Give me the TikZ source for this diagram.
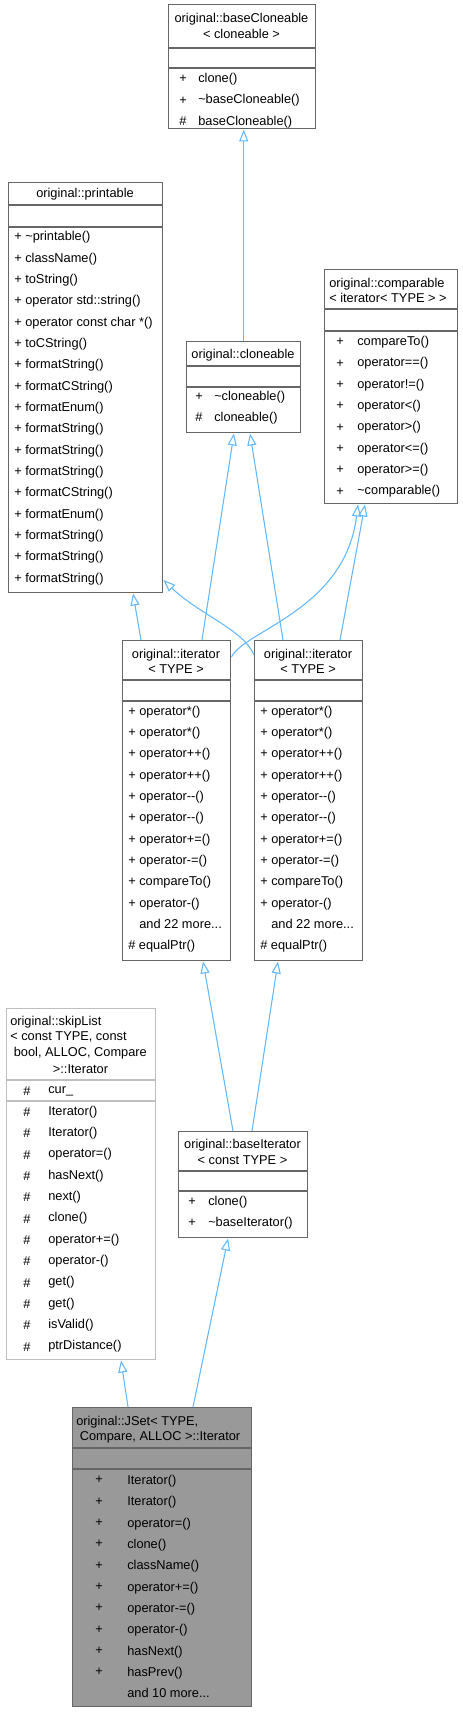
\documentclass[tikz,border=0pt]{standalone}
\usepackage{fontspec}
\setmainfont{Liberation Sans}
\usepackage{tikz}
\usetikzlibrary{calc,arrows.meta}

\begin{document}
\begin{tikzpicture}[x=0.75pt,y=0.75pt,yscale=-1,xscale=1,
  classbox/.style={draw={rgb, 255:red, 102; green, 102; blue, 102 }, fill=white, line width=1.1pt, inner sep=0pt, anchor=north west},
  divider/.style={draw={rgb, 255:red, 102; green, 102; blue, 102 }, line width=1.1pt},
  titletext/.style={font=\fontsize{9.6}{11.7}\selectfont, inner sep=0pt},
  rowtext/.style={font=\fontsize{9.6}{16}\selectfont, inner sep=0pt, align=left, anchor=west},
  symtext/.style={font=\fontsize{9.6}{16}\selectfont, inner sep=0pt, align=center},
  inherit/.style={draw={rgb, 255:red, 99; green, 184; blue, 255 }, line width=0.8pt, -{Triangle[open, length=9pt, width=6.8pt]}}
  ]
\useasboundingbox (0,0) rectangle (463,1712);

%Class: baseCloneable
\node[classbox, minimum width=147*0.75pt, minimum height=124*0.75pt] (bc) at (168,4) {};
\draw[divider] (bc.west |- 0,48) -- (bc.east |- 0,48);
\draw[divider] (bc.west |- 0,68) -- (bc.east |- 0,68);
\node[titletext, align=center] (bcTitle) at (241.5,26) {original::baseCloneable\\< cloneable >};
\node[symtext] (bcSym) at (183,100.5) {+\\+\\\#};
\node[rowtext] (bcRows) at (198,100.5) {clone()\\\textasciitilde baseCloneable()\\baseCloneable()};

%Class: printable
\node[classbox, minimum width=154*0.75pt, minimum height=410*0.75pt] (pr) at (8,182) {};
\draw[divider] (pr.west |- 0,205) -- (pr.east |- 0,205);
\draw[divider] (pr.west |- 0,227) -- (pr.east |- 0,227);
\node[titletext] (prTitle) at (85,194) {original::printable};
\node[rowtext] (prRows) at (14,408.2) {+ \textasciitilde printable()\\+ className()\\+ toString()\\+ operator std::string()\\+ operator const char *()\\+ toCString()\\+ formatString()\\+ formatCString()\\+ formatEnum()\\+ formatString()\\+ formatString()\\+ formatString()\\+ formatCString()\\+ formatEnum()\\+ formatString()\\+ formatString()\\+ formatString()};

%Class: cloneable
\node[classbox, minimum width=114*0.75pt, minimum height=91*0.75pt] (cl) at (186,341) {};
\draw[divider] (cl.west |- 0,366) -- (cl.east |- 0,366);
\draw[divider] (cl.west |- 0,387) -- (cl.east |- 0,387);
\node[titletext] (clTitle) at (243,355) {original::cloneable};
\node[symtext] (clSym) at (199,407.5) {+\\\#};
\node[rowtext] (clRows) at (214,407.5) {\textasciitilde cloneable()\\cloneable()};

%Class: comparable
\node[classbox, minimum width=133*0.75pt, minimum height=234*0.75pt] (cp) at (324,269) {};
\draw[divider] (cp.west |- 0,309) -- (cp.east |- 0,309);
\draw[divider] (cp.west |- 0,331) -- (cp.east |- 0,331);
\node[titletext, align=left, anchor=west] (cpTitle) at (329,290.5) {original::comparable\\< iterator< TYPE > >};
\node[symtext] (cpSym) at (340,416.7) {+\\+\\+\\+\\+\\+\\+\\+};
\node[rowtext] (cpRows) at (357,416.7) {compareTo()\\operator==()\\operator!=()\\operator<()\\operator>()\\operator<=()\\operator>=()\\\textasciitilde comparable()};

%Class: iterator (left)
\node[classbox, minimum width=108*0.75pt, minimum height=320*0.75pt] (iterA) at (122,640) {};
\draw[divider] (iterA.west |- 0,680) -- (iterA.east |- 0,680);
\draw[divider] (iterA.west |- 0,701) -- (iterA.east |- 0,701);
\node[titletext, align=center] (iterATitle) at (176,661.5) {original::iterator\\< TYPE >};
\node[rowtext] (iterARows) at (128,829.3) {+ operator*()\\+ operator*()\\+ operator++()\\+ operator++()\\+ operator-{}-()\\+ operator-{}-()\\+ operator+=()\\+ operator-=()\\+ compareTo()\\+ operator-()\\\phantom{+ }and 22 more...\\\# equalPtr()};

%Class: iterator (right)
\node[classbox, minimum width=108*0.75pt, minimum height=320*0.75pt] (iterB) at (254,640) {};
\draw[divider] (iterB.west |- 0,680) -- (iterB.east |- 0,680);
\draw[divider] (iterB.west |- 0,701) -- (iterB.east |- 0,701);
\node[titletext, align=center] (iterBTitle) at (308,661.5) {original::iterator\\< TYPE >};
\node[rowtext] (iterBRows) at (260,829.3) {+ operator*()\\+ operator*()\\+ operator++()\\+ operator++()\\+ operator-{}-()\\+ operator-{}-()\\+ operator+=()\\+ operator-=()\\+ compareTo()\\+ operator-()\\\phantom{+ }and 22 more...\\\# equalPtr()};

%Class: skipList Iterator
\node[classbox, draw={rgb, 255:red, 191; green, 191; blue, 191 }, minimum width=149*0.75pt, minimum height=351*0.75pt] (sk) at (6,1008) {};
\draw[divider, draw={rgb, 255:red, 191; green, 191; blue, 191 }] (sk.west |- 0,1080) -- (sk.east |- 0,1080);
\draw[divider, draw={rgb, 255:red, 191; green, 191; blue, 191 }] (sk.west |- 0,1101) -- (sk.east |- 0,1101);
\node[titletext, align=left, anchor=west] (skTitle) at (10,1037.5) {original::skipList\\< const TYPE, const\\\ bool, ALLOC, Compare};
\node[titletext] (skTitleEnd) at (80.5,1069) {>::Iterator};
\node[symtext] (skFieldSym) at (27,1091) {\#};
\node[rowtext] (skField) at (48,1091) {cur\_};
\node[symtext] (skSym) at (27,1229.3) {\#\\\#\\\#\\\#\\\#\\\#\\\#\\\#\\\#\\\#\\\#\\\#};
\node[rowtext] (skRows) at (48,1229.3) {Iterator()\\Iterator()\\operator=()\\hasNext()\\next()\\clone()\\operator+=()\\operator-()\\get()\\get()\\isValid()\\ptrDistance()};

%Class: baseIterator
\node[classbox, minimum width=129*0.75pt, minimum height=106*0.75pt] (bi) at (178,1131) {};
\draw[divider] (bi.west |- 0,1171) -- (bi.east |- 0,1171);
\draw[divider] (bi.west |- 0,1191) -- (bi.east |- 0,1191);
\node[titletext, align=center] (biTitle) at (242.5,1152) {original::baseIterator\\< const TYPE >};
\node[symtext] (biSym) at (192,1212.5) {+\\+};
\node[rowtext] (biRows) at (208,1212.5) {clone()\\\textasciitilde baseIterator()};

%Class: JSet Iterator
\node[classbox, fill={rgb, 255:red, 153; green, 153; blue, 153 }, minimum width=179*0.75pt, minimum height=299*0.75pt] (js) at (72,1407) {};
\draw[divider] (js.west |- 0,1448) -- (js.east |- 0,1448);
\draw[divider] (js.west |- 0,1469) -- (js.east |- 0,1469);
\node[titletext, align=left, anchor=west] (jsTitle) at (76,1429.5) {original::JSet< TYPE,\\\ Compare, ALLOC >::Iterator};
\node[symtext] (jsSym) at (99,1576) {+\\+\\+\\+\\+\\+\\+\\+\\+\\+};
\node[rowtext] (jsRows) at (127,1586.7) {Iterator()\\Iterator()\\operator=()\\clone()\\className()\\operator+=()\\operator-=()\\operator-()\\hasNext()\\hasPrev()\\and 10 more...};

%Straight Lines
\draw[inherit] (cl.north) -- (cl.north |- bc.south);
\draw[inherit] ($(iterA.north west)+(80,0)$) -- ($(cl.south west)+(48,0)$);
\draw[inherit] ($(iterB.north west)+(29,0)$) -- ($(cl.south west)+(64,0)$);
\draw[inherit] ($(iterA.north west)+(19,0)$) -- ($(pr.south west)+(125,0)$);
\draw[inherit] ($(iterB.north west)+(86,0)$) -- ($(cp.south west)+(41,0)$);
\draw[inherit] ($(bi.north west)+(55,0)$) -- ($(iterA.south west)+(81,0)$);
\draw[inherit] ($(bi.north west)+(74,0)$) -- ($(iterB.south west)+(24,0)$);
\draw[inherit] ($(js.north west)+(56,0)$) -- ($(sk.south west)+(115,0)$);
\draw[inherit] ($(js.north west)+(121,0)$) -- ($(bi.south west)+(50,0)$);
%Curve Lines
\draw[inherit] ($(iterB.north west)+(0,15)$) .. controls (244,630) and (200,615) .. ($(pr.north east)+(0,398)$);
\draw[inherit] ($(iterA.north east)+(0,17)$) .. controls (245,630) and (345,610) .. ($(cp.south west)+(34,0)$);
\end{tikzpicture}
\end{document}
